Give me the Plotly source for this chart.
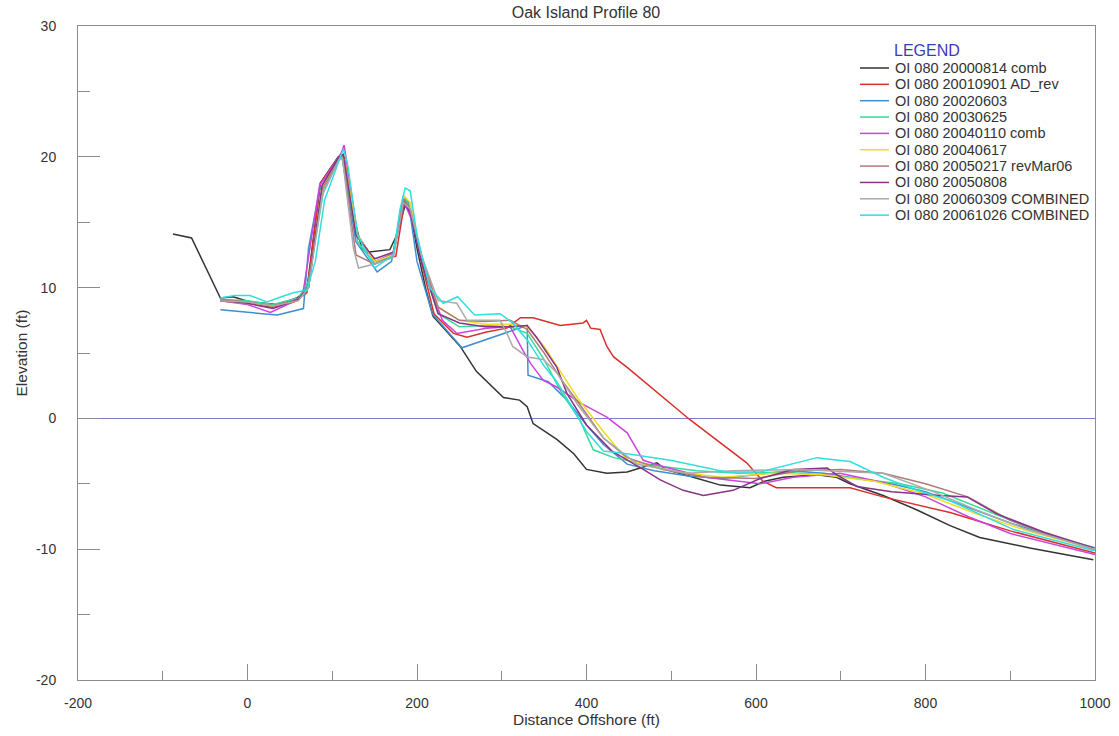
import plotly.graph_objects as go

# ---- data (distance offshore ft, elevation ft) ----
names = [
    "OI 080 20000814 comb",
    "OI 080 20010901 AD_rev",
    "OI 080 20020603",
    "OI 080 20030625",
    "OI 080 20040110 comb",
    "OI 080 20040617",
    "OI 080 20050217 revMar06",
    "OI 080 20050808",
    "OI 080 20060309 COMBINED",
    "OI 080 20061026 COMBINED",
]
colors = ["#333333", "#d9302c", "#3f8fcf", "#33dd99", "#cc44dd",
          "#eedd22", "#b07a7a", "#883388", "#aaaaaa", "#33dddd"]

x_2000 = [-88, -66, -32, -17, 3, 35, 58, 70, 86, 107, 112, 125, 135, 141, 168, 176, 186, 193, 200, 210,
          219, 239, 251, 270, 302, 321, 330, 337, 365, 385, 400, 424, 448, 483, 493, 526, 558, 593, 610,
          632, 672, 695, 711, 750, 790, 829, 864, 923, 998]
y_2000 = [14.1, 13.8, 9.2, 9.3, 8.9, 8.7, 9.2, 9.8, 18.0, 20.0, 20.1, 15.5, 13.0, 12.7, 12.9, 14.0, 16.3, 15.5, 13.0, 10.0,
          7.8, 6.4, 5.5, 3.6, 1.6, 1.4, 0.9, -0.4, -1.6, -2.7, -3.9, -4.2, -4.1, -3.4, -3.9, -4.5, -5.1, -5.3, -4.8,
          -4.5, -4.3, -4.5, -5.0, -5.9, -7.0, -8.2, -9.1, -9.9, -10.8]

x_2001 = [-32, 0, 30, 55, 70, 86, 110, 114, 130, 150, 175, 186, 195, 205, 220, 243, 259, 282, 306, 322,
          337, 369, 396, 400, 405, 416, 424, 432, 448, 522, 589, 608, 624, 711, 750, 829, 900, 1000]
y_2001 = [9.0, 8.8, 8.5, 8.9, 9.6, 18.0, 20.2, 20.0, 14.0, 12.0, 12.4, 16.8, 15.5, 12.0, 8.0, 6.5, 6.2, 6.6, 6.9, 7.7,
          7.7, 7.1, 7.3, 7.5, 6.9, 6.8, 5.5, 4.7, 3.9, -0.1, -3.4, -4.8, -5.3, -5.3, -6.0, -7.2, -8.6, -10.3]

x_2002 = [-32, 0, 35, 66, 72, 85, 108, 112, 128, 153, 170, 184, 190, 200, 218, 253, 330, 331, 355, 377,
          400, 420, 448, 480, 520, 560, 600, 640, 680, 720, 760, 800, 850, 900, 950, 1000]
y_2002 = [8.3, 8.1, 7.9, 8.4, 13.0, 17.5, 20.0, 19.8, 13.5, 11.2, 12.0, 17.0, 16.5, 12.0, 8.0, 5.4, 7.1, 3.3, 2.8, 1.4,
          -0.5, -2.0, -3.5, -4.0, -4.4, -4.6, -4.3, -4.0, -4.2, -4.6, -5.0, -5.6, -6.8, -8.0, -9.0, -9.9]

x_2003 = [-32, 0, 30, 60, 72, 90, 110, 114, 130, 150, 172, 185, 192, 205, 225, 250, 280, 310, 330, 350,
          370, 392, 408, 432, 480, 530, 580, 630, 680, 720, 770, 820, 870, 920, 1000]
y_2003 = [9.1, 9.0, 8.7, 9.2, 10.5, 17.5, 20.0, 19.5, 13.5, 11.8, 12.6, 17.0, 16.0, 12.0, 8.0, 7.0, 7.1, 7.0, 6.5, 4.5,
          2.0, -0.1, -2.4, -3.0, -3.6, -4.0, -4.2, -4.1, -4.3, -4.6, -5.0, -5.7, -7.0, -8.3, -10.1]

x_2004a = [-32, 0, 27, 50, 65, 85, 110, 114, 130, 150, 172, 185, 195, 210, 230, 247, 282, 310, 325, 334,
           349, 365, 392, 424, 448, 467, 491, 540, 605, 644, 699, 750, 800, 850, 900, 950, 1000]
y_2004a = [9.0, 8.7, 8.1, 8.8, 9.4, 17.8, 20.2, 20.9, 14.0, 12.0, 12.6, 16.5, 15.0, 11.0, 7.5, 6.5, 6.9, 7.0, 5.2, 4.2,
           2.9, 2.4, 1.2, 0.1, -1.1, -3.2, -3.7, -4.5, -5.0, -4.5, -4.2, -4.9, -6.0, -7.5, -8.8, -9.6, -10.4]

x_2004b = [-32, 0, 30, 60, 72, 88, 110, 114, 130, 150, 172, 185, 192, 205, 225, 250, 280, 310, 330, 350,
           370, 390, 420, 448, 507, 560, 620, 680, 740, 800, 860, 920, 1000]
y_2004b = [9.0, 8.8, 8.6, 9.0, 10.0, 17.8, 20.0, 19.8, 14.0, 12.0, 12.5, 17.0, 16.5, 12.5, 8.5, 7.5, 7.2, 7.2, 7.0, 5.5,
           3.5, 1.5, -1.0, -3.2, -4.1, -4.5, -4.2, -4.3, -4.8, -5.8, -7.3, -8.6, -10.0]

x_2005a = [-32, 0, 30, 60, 72, 88, 108, 112, 128, 150, 172, 184, 192, 205, 225, 250, 280, 310, 330, 350,
           370, 395, 420, 448, 490, 540, 600, 650, 700, 750, 800, 850, 900, 950, 1000]
y_2005a = [9.1, 8.9, 8.6, 9.1, 10.0, 17.5, 19.8, 20.0, 12.5, 11.8, 12.4, 16.8, 16.0, 12.5, 8.5, 7.5, 7.4, 7.5, 6.8, 5.0,
           3.0, 0.8, -1.5, -3.0, -3.9, -4.5, -4.6, -4.0, -3.9, -4.2, -5.0, -6.0, -7.8, -9.0, -10.0]

x_2005b = [-32, 0, 30, 60, 72, 88, 108, 113, 128, 150, 172, 185, 192, 205, 225, 250, 280, 310, 330, 341,
           365, 377, 400, 430, 467, 487, 514, 538, 573, 605, 644, 684, 695, 719, 760, 817, 849, 884, 940, 998]
y_2005b = [9.0, 8.8, 8.4, 9.1, 10.0, 17.8, 20.0, 20.2, 14.0, 12.2, 12.7, 16.5, 15.8, 12.0, 8.0, 7.3, 7.0, 7.0, 7.1, 6.2,
           3.9, 1.9, -0.5, -2.5, -3.9, -4.7, -5.5, -5.9, -5.5, -4.6, -3.9, -3.8, -4.3, -5.2, -5.6, -5.9, -6.0, -7.3, -8.7, -9.9]

x_2006a = [-32, 0, 30, 60, 72, 88, 108, 112, 125, 131, 150, 172, 184, 192, 205, 225, 247, 259, 271, 298,
           306, 313, 330, 349, 365, 390, 420, 460, 518, 573, 650, 750, 809, 860, 920, 1000]
y_2006a = [9.0, 8.9, 8.6, 9.0, 10.0, 17.0, 19.8, 19.9, 13.0, 11.5, 11.8, 12.3, 16.5, 16.0, 12.5, 9.0, 8.8, 7.5, 7.5, 7.5,
           6.5, 5.5, 4.7, 4.5, 3.5, 1.0, -1.5, -3.5, -4.2, -4.0, -3.9, -4.2, -5.6, -7.0, -8.5, -10.0]

x_2006b = [-32, -15, 3, 23, 40, 54, 70, 80, 91, 113, 118, 130, 150, 172, 180, 186, 192, 200, 215, 231,
           248, 268, 298, 313, 330, 350, 365, 380, 400, 420, 448, 499, 565, 605, 652, 672, 684, 711, 750, 790,
           829, 904, 998]
y_2006b = [9.2, 9.4, 9.4, 8.9, 9.3, 9.6, 9.8, 12.0, 16.7, 20.6, 19.5, 14.0, 11.5, 12.5, 16.0, 17.6, 17.4, 14.0, 10.0, 8.8,
           9.3, 7.9, 8.0, 7.3, 6.0, 4.0, 2.8, 1.2, -1.0, -2.5, -2.7, -3.2, -4.1, -4.1, -3.3, -3.0, -3.1, -3.3, -4.5, -5.5,
           -6.3, -8.5, -10.1]

xs = [x_2000, x_2001, x_2002, x_2003, x_2004a, x_2004b, x_2005a, x_2005b, x_2006a, x_2006b]
ys = [y_2000, y_2001, y_2002, y_2003, y_2004a, y_2004b, y_2005a, y_2005b, y_2006a, y_2006b]

x_ticks = [-200, 0, 200, 400, 600, 800, 1000]
x_tick_text = ["-200", "0", "200", "400", "600", "800", "1000"]
y_ticks = [-20, -10, 0, 10, 20, 30]
y_tick_text = ["-20", "-10", "0", "10", "20", "30"]

FONT = "Liberation Sans, Arial, sans-serif"
TXT = "#333333"
AX = "#8c8c8c"

fig = go.Figure()
for name, color, x, y in zip(names, colors, xs, ys):
    fig.add_trace(go.Scatter(x=x, y=y, mode="lines", name=name, showlegend=False,
                             line=dict(color=color, width=1.5)))

axis_common = dict(
    showgrid=False, showline=True, linecolor=AX, linewidth=1, mirror=True,
    ticks="inside", tickcolor=AX, tickwidth=1, automargin=False,
    tickfont=dict(family=FONT, size=14, color=TXT),
)

# ---- legend drawn as a keyed list in the upper right ----
L, T, W, H = 78, 26, 1017, 654   # plot area in pixels
def px_x(p):
    return (p - L) / W
def px_y(p):
    return (T + H - p) / H

shapes = []
annotations = [dict(text="LEGEND", xref="paper", yref="paper", x=px_x(892), y=px_y(50),
                    xanchor="left", yanchor="middle", showarrow=False,
                    font=dict(family=FONT, size=16, color="#3b3bb8"))]
for i, (name, color) in enumerate(zip(names, colors)):
    yy = px_y(68 + 16.35 * i)
    shapes.append(dict(type="line", xref="paper", yref="paper",
                       x0=px_x(860), x1=px_x(889), y0=yy, y1=yy,
                       line=dict(color=color, width=1.5)))
    annotations.append(dict(text=name, xref="paper", yref="paper", x=px_x(893), y=yy,
                            xanchor="left", yanchor="middle", showarrow=False,
                            font=dict(family=FONT, size=14.5, color=TXT)))

fig.update_layout(
    width=1119, height=736,
    margin=dict(l=L, r=1119 - L - W, t=T, b=736 - T - H),
    paper_bgcolor="white", plot_bgcolor="white",
    font=dict(family=FONT, size=14, color=TXT),
    title=dict(text="Oak Island Profile 80", x=(586 / 1119), xanchor="center",
               y=1 - 12 / 736, yanchor="middle", font=dict(family=FONT, size=16, color=TXT)),
    xaxis=dict(range=[-200, 1000], tickvals=x_ticks, ticktext=x_tick_text, ticklen=16,
               ticklabelstandoff=10,
               minor=dict(dtick=100, ticklen=9, ticks="inside", tickcolor=AX),
               title=dict(text="Distance Offshore (ft)", font=dict(family=FONT, size=15.5, color=TXT),
                          standoff=1),
               zeroline=False, **axis_common),
    yaxis=dict(range=[-20, 30], tickvals=y_ticks, ticktext=y_tick_text, ticklen=22,
               ticklabelstandoff=18,
               minor=dict(dtick=5, ticklen=12, ticks="inside", tickcolor=AX),
               title=dict(text="Elevation (ft)", font=dict(family=FONT, size=15.5, color=TXT),
                          standoff=4),
               zeroline=True, zerolinecolor="#7b7bd0", zerolinewidth=1, **axis_common),
    showlegend=False,
    shapes=shapes,
    annotations=annotations,
)

fig.write_html("out.html")
